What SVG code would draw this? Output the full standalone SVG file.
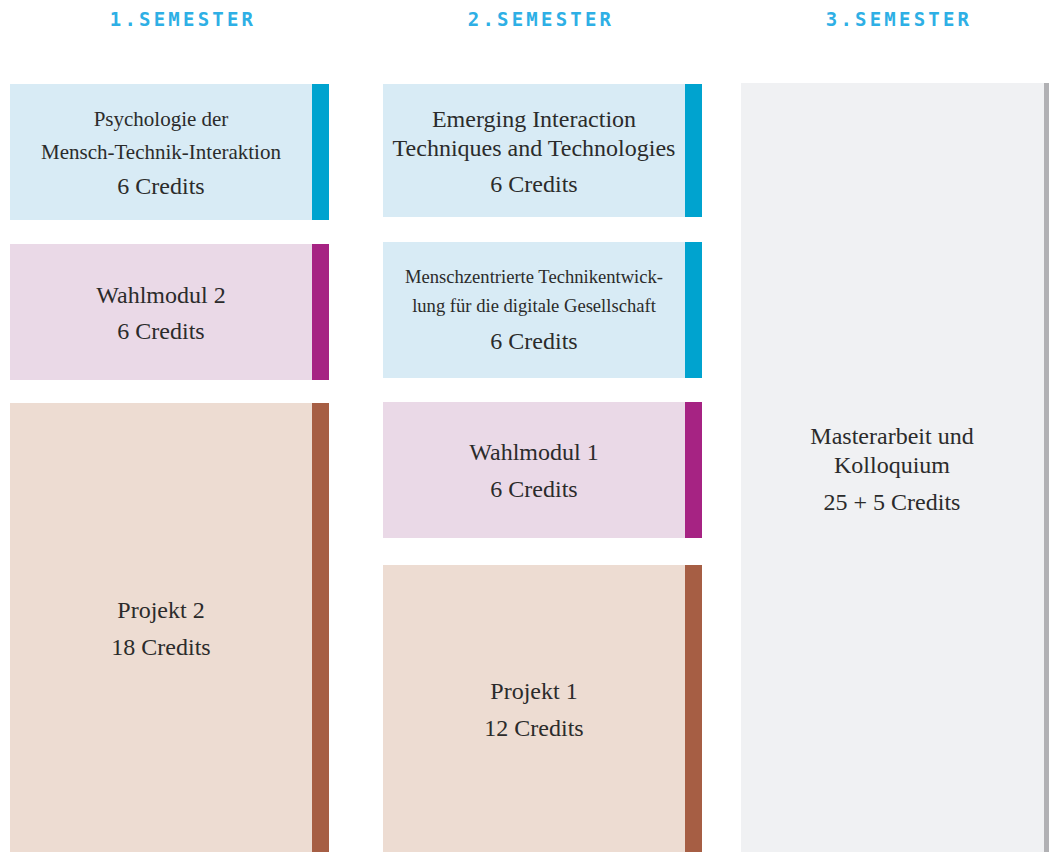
<svg xmlns="http://www.w3.org/2000/svg" width="1049" height="852" viewBox="0 0 1049 852">
<style>
.hd{font-family:"DejaVu Sans Mono","Liberation Mono",monospace;font-size:19px;font-weight:bold;fill:#2eafe5;letter-spacing:3.2px;text-anchor:middle}
.t{font-family:"Liberation Serif","Times New Roman",serif;fill:#2b2b2b;text-anchor:middle;font-size:24px}
.s1{font-size:21px}
.s2{font-size:18.6px}
.blue{fill:#d8ebf5}.blueb{fill:#00a3cf}
.pink{fill:#ead9e7}.pinkb{fill:#a62383}
.peach{fill:#eddcd2}.peachb{fill:#a65e44}
.grey{fill:#f0f1f3}.greyb{fill:#b1b1b4}
</style>
<rect width="1049" height="852" fill="#ffffff"/>
<g id="headers">
<text class="hd" x="183" y="26">1.SEMESTER</text>
<text class="hd" x="541" y="26">2.SEMESTER</text>
<text class="hd" x="899" y="26">3.SEMESTER</text>
</g>
<g id="s1-psych">
<rect class="blue" x="10" y="84" width="302" height="136"/>
<rect class="blueb" x="312" y="84" width="17" height="136"/>
<text class="t s1" x="161" y="126">Psychologie der</text>
<text class="t s1" x="161" y="159">Mensch-Technik-Interaktion</text>
<text class="t" x="161" y="194">6 Credits</text>
</g>
<g id="s1-wahl2">
<rect class="pink" x="10" y="244" width="302" height="136"/>
<rect class="pinkb" x="312" y="244" width="17" height="136"/>
<text class="t" x="161" y="303">Wahlmodul 2</text>
<text class="t" x="161" y="339">6 Credits</text>
</g>
<g id="s1-projekt2">
<rect class="peach" x="10" y="403" width="302" height="449"/>
<rect class="peachb" x="312" y="403" width="17" height="449"/>
<text class="t" x="161" y="618">Projekt 2</text>
<text class="t" x="161" y="655">18 Credits</text>
</g>
<g id="s2-emerging">
<rect class="blue" x="383" y="84" width="302" height="133"/>
<rect class="blueb" x="685" y="84" width="17" height="133"/>
<text class="t" x="534" y="127">Emerging Interaction</text>
<text class="t" x="534" y="156">Techniques and Technologies</text>
<text class="t" x="534" y="192">6 Credits</text>
</g>
<g id="s2-mensch">
<rect class="blue" x="383" y="242" width="302" height="136"/>
<rect class="blueb" x="685" y="242" width="17" height="136"/>
<text class="t s2" x="534" y="283">Menschzentrierte Technikentwick-</text>
<text class="t s2" x="534" y="312">lung für die digitale Gesellschaft</text>
<text class="t" x="534" y="349">6 Credits</text>
</g>
<g id="s2-wahl1">
<rect class="pink" x="383" y="402" width="302" height="136"/>
<rect class="pinkb" x="685" y="402" width="17" height="136"/>
<text class="t" x="534" y="460">Wahlmodul 1</text>
<text class="t" x="534" y="497">6 Credits</text>
</g>
<g id="s2-projekt1">
<rect class="peach" x="383" y="565" width="302" height="287"/>
<rect class="peachb" x="685" y="565" width="17" height="287"/>
<text class="t" x="534" y="699">Projekt 1</text>
<text class="t" x="534" y="736">12 Credits</text>
</g>
<g id="s3-master">
<rect class="grey" x="741" y="83" width="303" height="769"/>
<rect class="greyb" x="1044" y="83" width="5" height="769"/>
<text class="t" x="892" y="444">Masterarbeit und</text>
<text class="t" x="892" y="473">Kolloquium</text>
<text class="t" x="892" y="510">25 + 5 Credits</text>
</g>
<g id="connectors"></g>
</svg>
